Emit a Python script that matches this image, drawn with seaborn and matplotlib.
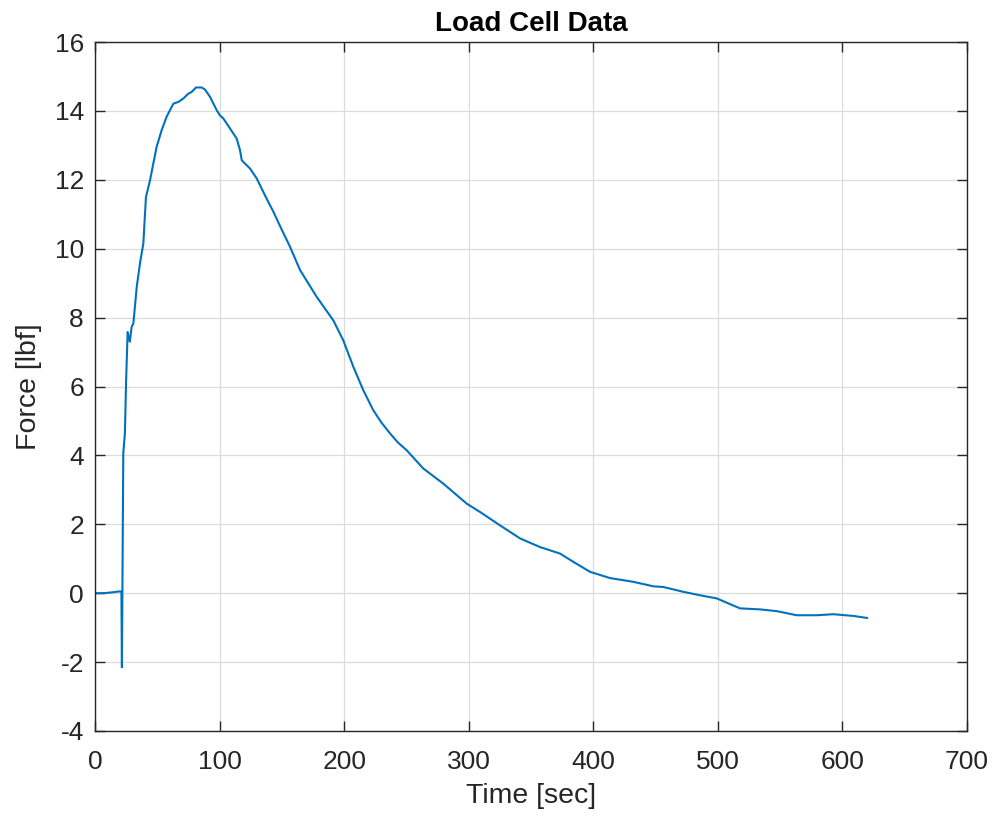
import numpy as np
import pandas as pd
import matplotlib
matplotlib.use("Agg")
import matplotlib.pyplot as plt
import seaborn as sns

# Load cell record: time [sec] and force [lbf]
time_sec = [0, 5, 10, 15, 19, 21.2, 21.6, 22.7, 24.0, 25.0, 26.2, 27.0, 28.0,
            29.4, 30.8, 33.5, 36.1, 38.8, 40.9, 44.2, 46.8, 49.5, 53.5, 57.5,
            62.9, 66.9, 70.9, 74.9, 77.6, 81.1, 85.6, 88.3, 92.3, 97.7, 100.3,
            103.0, 108.4, 113.7, 116.4, 117.8, 119.0, 124.4, 129.8, 137.8,
            143.1, 148.5, 156.5, 164.6, 178.0, 191.3, 199.3, 207.4, 215.4,
            223.4, 230.0, 236.8, 243.0, 250.2, 263.5, 279.6, 298.4, 309.0, 325.1, 341.2,
            357.2, 373.3, 384.0, 397.4, 413.4, 432.1, 448.2, 456.2, 472.3,
            485.7, 499.0, 517.8, 533.8, 547.2, 563.3, 579.3, 592.7, 608.8, 620.0]
force_lbf = [0.0, 0.0, 0.01, 0.03, 0.05, 0.05, -2.15, 4.06, 4.64, 6.2, 7.58, 7.45, 7.3,
             7.73, 7.83, 8.89, 9.57, 10.15, 11.5, 11.99, 12.47, 12.96, 13.44, 13.83,
             14.21, 14.26, 14.36, 14.5, 14.55, 14.68, 14.68, 14.62, 14.41, 14.02, 13.87,
             13.78, 13.49, 13.2, 12.86, 12.57, 12.52, 12.33, 12.04, 11.45,
             11.08, 10.66, 10.06, 9.38, 8.6, 7.92, 7.34, 6.57, 5.89,
             5.31, 4.95, 4.64, 4.38, 4.15, 3.62, 3.18, 2.6, 2.36, 1.97, 1.59,
             1.34, 1.15, 0.91, 0.62, 0.44, 0.33, 0.2, 0.18, 0.04,
             -0.06, -0.15, -0.44, -0.47, -0.52, -0.64, -0.64, -0.61, -0.66, -0.72]

x_ticks = [0, 100, 200, 300, 400, 500, 600, 700]
y_ticks = [-4, -2, 0, 2, 4, 6, 8, 10, 12, 14, 16]

df = pd.DataFrame({"Time [sec]": time_sec, "Force [lbf]": force_lbf})

sns.set_theme(style="whitegrid")
plt.rcParams["font.family"] = ["Liberation Sans", "DejaVu Sans"]

fig = plt.figure(figsize=(9.95, 8.19), dpi=100)
ax = fig.add_axes([95 / 995, 88 / 819, 872 / 995, 689 / 819])

sns.lineplot(data=df, x="Time [sec]", y="Force [lbf]", ax=ax,
             color="#0072BD", linewidth=1.5, sort=False, estimator=None)

ax.set_xlim(0, 700)
ax.set_ylim(-4, 16)
ax.set_xticks(x_ticks)
ax.set_yticks(y_ticks)
ax.set_xticklabels([str(v) for v in x_ticks])
ax.set_yticklabels([str(v) for v in y_ticks])

ax.set_facecolor("white")
ax.grid(True, color="#dcdcdc", linewidth=0.9)
for spine in ax.spines.values():
    spine.set_visible(True)
    spine.set_color("#262626")
    spine.set_linewidth(1.0)

ax.tick_params(axis="both", which="both", direction="in", length=7, width=1.0,
               color="#262626", labelcolor="#262626", labelsize=19,
               top=True, right=True, bottom=True, left=True)
ax.tick_params(axis="x", pad=14)
ax.tick_params(axis="y", pad=8)

ax.set_xlabel("Time [sec]", fontsize=20.5, color="#262626", labelpad=6)
ax.set_ylabel("Force [lbf]", fontsize=20.5, color="#262626", labelpad=9)
ax.set_title("Load Cell Data", fontsize=20, fontweight="bold", color="black", pad=8)

fig.savefig("out.png", dpi=100, facecolor="white")
